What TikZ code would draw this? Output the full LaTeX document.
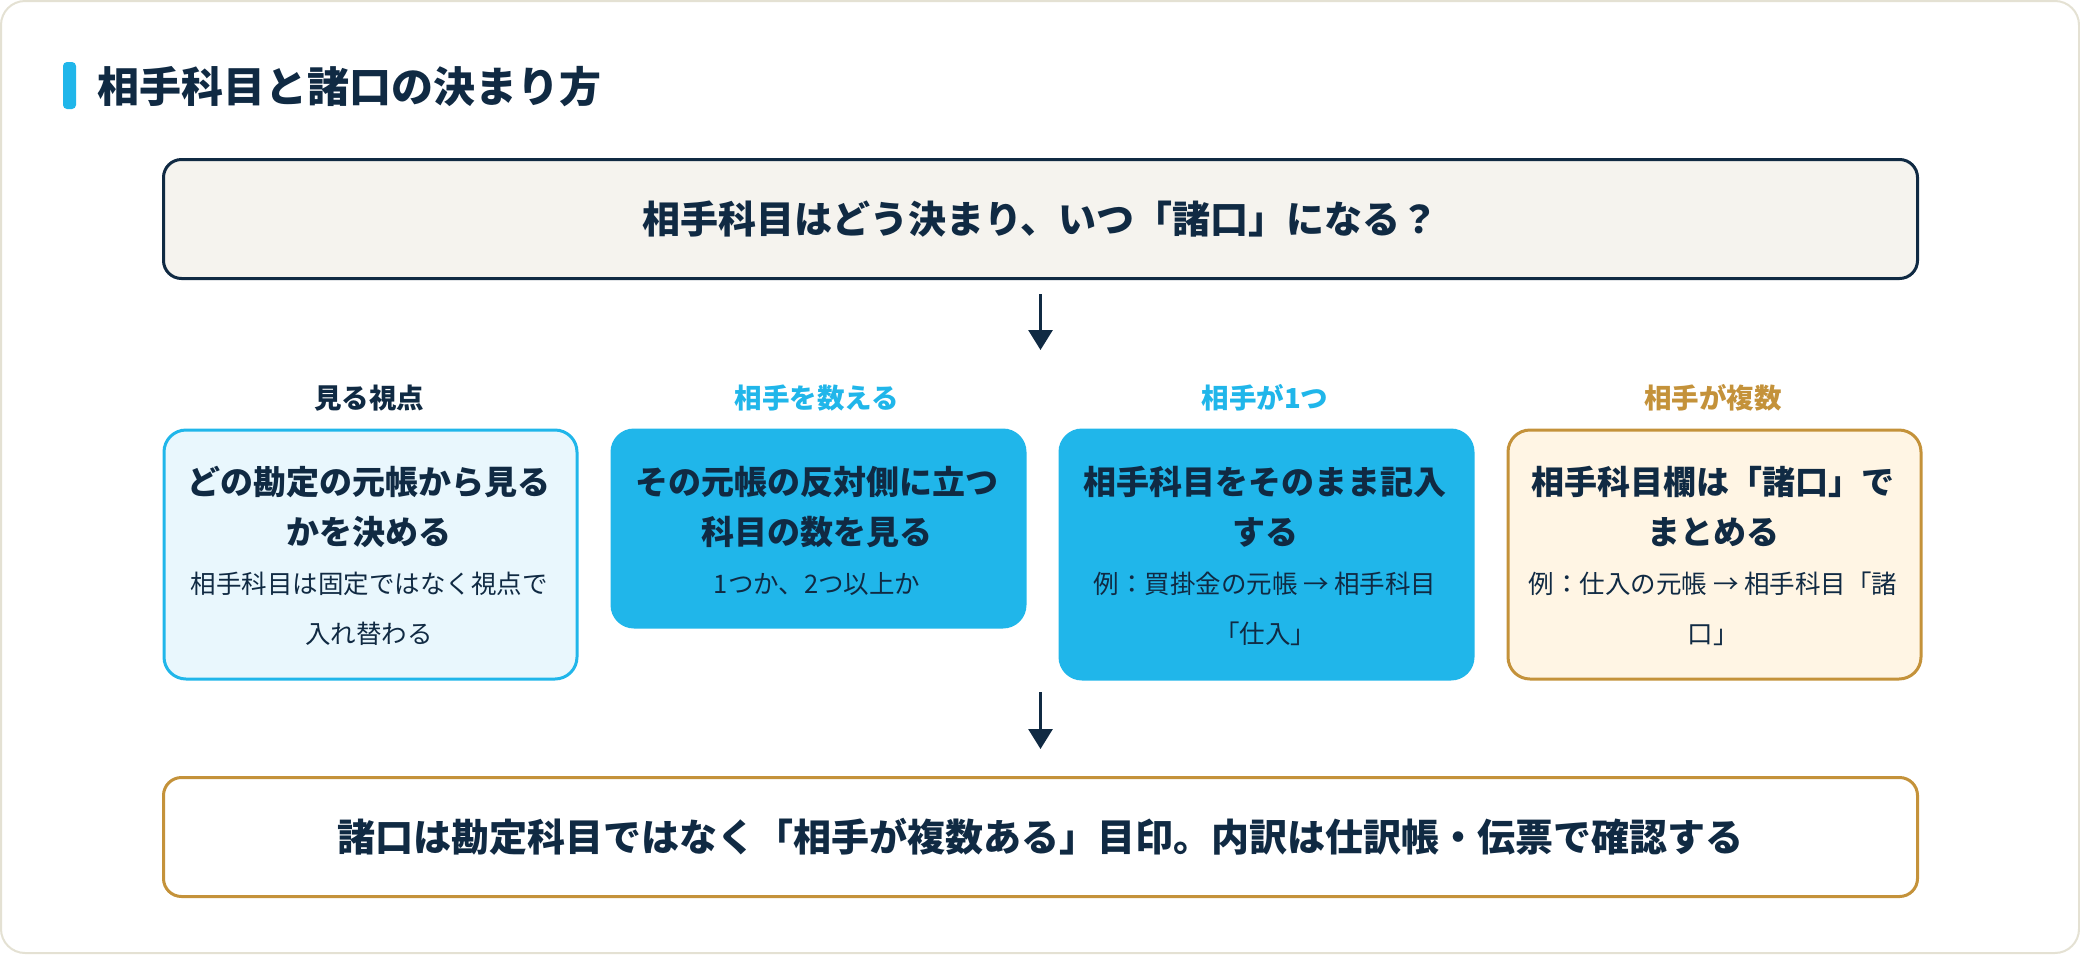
\documentclass[tikz,border=0pt]{standalone}
\usepackage{fontspec}
\setmainfont{Noto Sans CJK JP}
\usetikzlibrary{arrows.meta,positioning}
\usepackage{xcolor}
\definecolor{navy}{HTML}{102A43}
\definecolor{sky}{HTML}{20B6EA}
\definecolor{skylt}{HTML}{E9F7FD}
\definecolor{gold}{HTML}{C4923A}
\definecolor{cream}{HTML}{FFF5E4}
\definecolor{paper}{HTML}{F5F3EE}
\definecolor{rim}{HTML}{E4E1D3}

\begin{document}
\begin{tikzpicture}[x=1pt,y=-1pt,
  card/.style={line width=3pt,rounded corners=22pt,minimum width=413pt,anchor=north west,inner sep=0pt},
  cardA/.style={card,draw=sky,fill=skylt},
  cardB/.style={card,draw=sky,fill=sky},
  cardC/.style={card,draw=gold,fill=cream},
  wide/.style={line width=3pt,rounded corners=18pt,minimum width=1754pt,minimum height=119pt,
    text=navy,font=\fontsize{38}{46}\selectfont\bfseries},
  lbl/.style={font=\fontsize{27.5}{32}\selectfont\bfseries},
  head/.style={anchor=north,align=center,inner sep=0pt,text=navy,font=\fontsize{33}{50}\selectfont\bfseries},
  sub/.style={anchor=north,align=center,inner sep=0pt,text=navy,font=\fontsize{25.5}{50}\selectfont},
  arr/.style={navy,line width=3pt,-{Triangle[length=20pt,width=24pt]}}]
  \useasboundingbox (0,0) rectangle (2080,954);
  \draw[rim,line width=2pt,fill=white,rounded corners=24pt] (1,1) rectangle (2079,953);

  % title
  \fill[sky,rounded corners=4pt] (63,62) rectangle (76,109);
  \node[anchor=west,inner sep=0pt,text=navy,font=\fontsize{42}{50}\selectfont\bfseries] (ttl) at (97,87) {相手科目と諸口の決まり方};

  \node[wide,draw=navy,fill=paper] (q) at (1040.5,219) {相手科目はどう決まり、いつ「諸口」になる？};

  % four steps
  \foreach \n/\x/\lab/\lc/\sty/\hh/\hd/\sb in {
    1/369/見る視点/navy/cardA/249/{どの勘定の元帳から見る\\かを決める}/{相手科目は固定ではなく視点で\\入れ替わる},
    2/817/相手を数える/sky/cardB/197/{その元帳の反対側に立つ\\科目の数を見る}/{1つか、2つ以上か},
    3/1265/相手が1つ/sky/cardB/249/{相手科目をそのまま記入\\する}/{例：買掛金の元帳 → 相手科目\\「仕入」},
    4/1713/相手が複数/gold/cardC/249/{相手科目欄は「諸口」で\\まとめる}/{例：仕入の元帳 → 相手科目「諸\\口」}} {
    \node[lbl,text=\lc] (l\n) at (\x,398) {\lab};
    \node[\sty,minimum height=\hh pt] (b\n) at (\x-206.5,428.5) {};
    \node[head] (h\n) at (\x,466) {\hd};
    \node[sub] (s\n) at (\x,572) {\sb};
  }

  \node[wide,draw=gold,fill=white] (ans) at (1040.5,837) {諸口は勘定科目ではなく「相手が複数ある」目印。内訳は仕訳帳・伝票で確認する};

  \coordinate (m1) at (1040.5,350);
  \coordinate (m2) at (1040.5,692);
  \draw[arr] ([yshift=-14pt]q.south) -- (m1);
  \draw[arr] (m2) -- ([yshift=27pt]ans.north);
\end{tikzpicture}
\end{document}
